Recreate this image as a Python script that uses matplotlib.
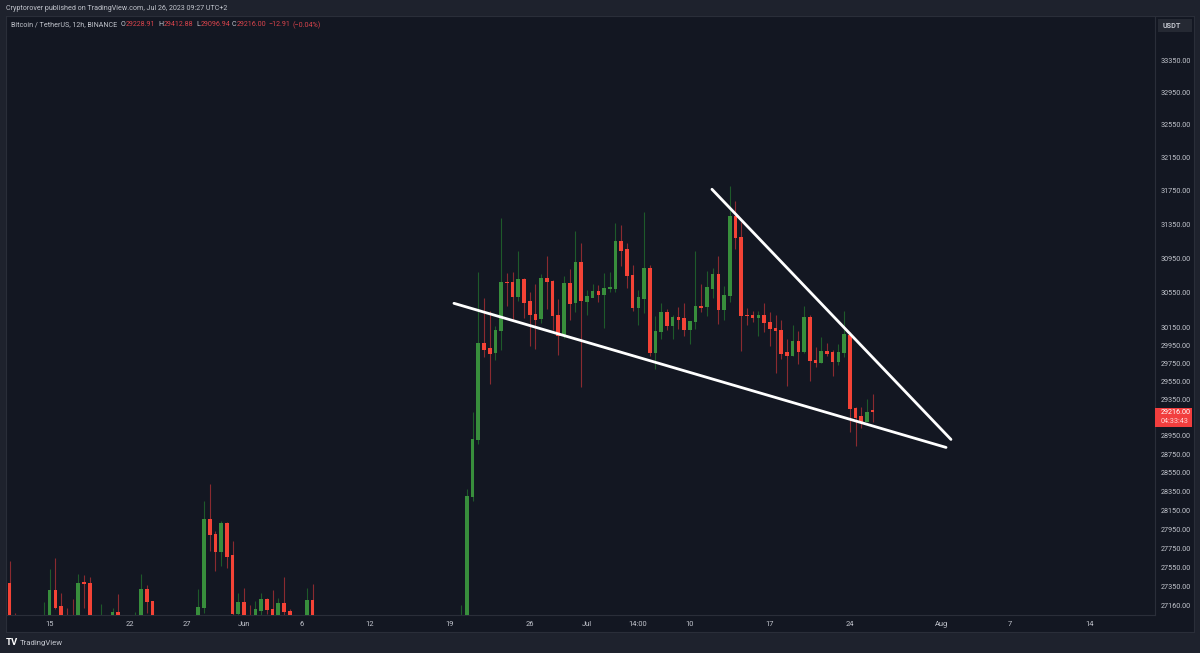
import numpy as np
import matplotlib
matplotlib.use('Agg')
import matplotlib.pyplot as plt
from matplotlib.patches import Rectangle

plt.rcParams['font.family'] = ['Roboto', 'DejaVu Sans']

# 12h candles, index counted from May 15 00:00 (below the visible range values are rough)
candle_idx = [-7, -6, -1, 0, 1, 2, 3, 4, 5, 6, 7, 9, 11, 12, 15, 16, 17, 18,
              26, 27, 28, 29, 30, 31, 32, 33, 34, 35, 36, 37, 38, 39, 40, 41, 42, 45, 46,
              72, 73, 74, 75, 76, 77, 78, 79, 80, 81, 82, 83, 84, 85, 86, 87, 88, 89,
              90, 91, 92, 93, 94, 95, 96, 97, 98, 99, 100, 101, 102, 103, 104, 105, 106, 107, 108, 109,
              110, 111, 112, 113, 114, 115, 116, 117, 118, 119, 120, 121, 122, 123, 124, 125, 126, 127, 128, 129,
              130, 131, 132, 133, 134, 135, 136, 137, 138, 139, 140, 141, 142, 143, 144]
opens = [27391, 26980, 26900, 26950, 27316, 27149, 27000, 27000, 26950, 27396, 27385, 26950, 26950, 27093, 26950, 26950, 27323, 27204,
         26950, 27133, 28051, 27897, 27711, 28010, 27677, 27080, 27194, 27000, 26950, 27110, 27224, 27120, 26950, 27180, 27103, 26950, 27214,
         26950, 26950, 28290, 28911, 29979, 29916, 29866, 30123, 30676, 30673, 30511, 30704, 30450, 30309, 30251, 30719, 30684, 30294,
         30059, 30661, 30434, 30901, 30454, 30499, 30572, 30526, 30595, 30603, 31147, 31056, 30757, 30385, 30485, 30838, 29866, 30104, 30332, 30180,
         30271, 30256, 30134, 30222, 30400, 30389, 30603, 30765, 30362, 30523, 31445, 31201, 30300, 30294, 30271, 30290, 30217, 30149, 30123, 29871,
         29833, 29998, 29886, 30271, 29784, 29758, 29889, 29871, 29773, 29866, 30070, 29247, 29159, 29105, 29228.91]
highs = [27619, 27083, 27197, 27532, 27650, 27282, 27136, 27224, 27488, 27470, 27453, 27173, 27130, 27272, 27090, 27481, 27367, 27204,
         27333, 28244, 28434, 27932, 28034, 28026, 27823, 27282, 27340, 27163, 27204, 27288, 27237, 27323, 27237, 27447, 27120, 27340, 27377,
         27163, 28380, 29209, 30787, 30488, 30344, 30168, 31424, 30784, 30788, 31036, 30727, 30560, 30650, 30773, 30978, 30696, 30485,
         30742, 30831, 31267, 31130, 30588, 30657, 30638, 30780, 30788, 31365, 31346, 31130, 30869, 30580, 31496, 30869, 30286, 30439, 30370, 30297,
         30389, 30434, 30228, 31036, 30650, 30803, 30838, 30974, 30627, 31802, 31622, 31377, 30377, 30343, 30343, 30434, 30328, 30302, 30236, 30020,
         30180, 30115, 30405, 30302, 29931, 30047, 29983, 29897, 29965, 30343, 30104, 29264, 29264, 29358, 29412.88]
lows = [26900, 26900, 26880, 26900, 27123, 26900, 26900, 26900, 26900, 27136, 26900, 26900, 26900, 26900, 26900, 26900, 27080, 26900,
        26900, 27080, 27722, 27512, 27564, 27540, 27062, 27062, 26900, 26900, 26900, 27062, 27072, 26900, 26900, 27062, 26900, 26900, 26900,
        26900, 26900, 28248, 28857, 29822, 29516, 29792, 29897, 30396, 30244, 30454, 30267, 29945, 29916, 30206, 30370, 30131, 29841,
        30040, 30236, 30332, 29486, 30302, 30499, 30442, 30149, 30560, 30560, 30858, 30607, 30343, 30188, 30317, 29833, 29691, 30030, 30126, 30030,
        30142, 30054, 29964, 30134, 30332, 30282, 30496, 30199, 30236, 30446, 31064, 29885, 30188, 30217, 30059, 30104, 29945, 29642, 29795, 29497,
        29833, 29739, 29866, 29550, 29709, 29758, 29830, 29605, 29728, 29822, 28990, 28838, 29039, 29105, 29096.94]
closes = [26950, 26950, 26980, 27316, 27139, 26950, 26950, 26950, 27391, 27383, 26950, 27000, 27093, 26950, 27000, 27323, 27197, 26950,
          27139, 28051, 27894, 27711, 28010, 27667, 27080, 27194, 26950, 26950, 27120, 27224, 27113, 26950, 27180, 27093, 26950, 27214, 26950,
          27000, 28298, 28914, 29979, 29905, 29863, 30126, 30676, 30665, 30511, 30704, 30442, 30302, 30248, 30719, 30676, 30291, 30059,
          30661, 30431, 30901, 30457, 30511, 30572, 30526, 30603, 30615, 31147, 31044, 30750, 30385, 30496, 30834, 29866, 30108, 30332, 30180, 30274,
          30248, 30134, 30228, 30400, 30385, 30612, 30765, 30362, 30526, 31445, 31194, 30285, 30290, 30271, 30290, 30206, 30146, 30120, 29863, 29833,
          29998, 29886, 30271, 29781, 29754, 29889, 29863, 29773, 29871, 30075, 29247, 29148, 29105, 29209, 29216.00]

# two trend lines drawn on the chart (days since May 15, price)
lower_days = [35.37, 78.42]
lower_price = [30431, 28824]
upper_days = [57.94, 78.85]
upper_price = [31766, 28911]

price_ticks = [33350, 32950, 32550, 32150, 31750, 31350, 30950, 30550, 30150, 29950, 29750, 29550, 29350,
               28950, 28750, 28550, 28350, 28150, 27950, 27750, 27550, 27350, 27160]
time_ticks = [0, 7, 12, 17, 22, 28, 35, 42, 47, 51.4, 56, 63, 70, 78, 84, 91]
time_labels = ['15', '22', '27', 'Jun', '6', '12', '19', '26', 'Jul', '14:00', '10', '17', '24', 'Aug', '7', '14']

frame_col = '#1e222d'
chart_col = '#131722'
line_col = '#2a2e39'
text_col = '#c3c6ce'
up_col = '#388e3c'
down_col = '#f44336'
up_wick = '#1e5a2a'
down_wick = '#8a2a30'

W, H = 1200, 653


def box(x0, y0, x1, y1):
    return [x0 / W, 1 - y1 / H, (x1 - x0) / W, (y1 - y0) / H]


def put(x, y, s, **kw):
    kw.setdefault('color', text_col)
    kw.setdefault('fontsize', 5.2)
    kw.setdefault('va', 'center')
    fig.text(x / W, 1 - y / H, s, **kw)


fig = plt.figure(figsize=(12, 6.53), dpi=100, facecolor=frame_col)

# panel behind the chart and both axes
panel = fig.add_axes(box(6, 16, 1194, 632), facecolor=chart_col)
panel.set_xticks([])
panel.set_yticks([])
for s in panel.spines.values():
    s.set_color(line_col)
    s.set_linewidth(0.8)

ax = fig.add_axes(box(6, 16, 1155, 615), facecolor='none')
ax.set_yscale('log')
ax.set_xlim(-3.82, 96.7)
ax.set_ylim(27062, 33907)

days = np.array(candle_idx) / 2
opens = np.array(opens)
closes = np.array(closes)
rising = closes >= opens
colors = np.where(rising, up_col, down_col)
wicks = np.where(rising, up_wick, down_wick)

ax.vlines(days, lows, highs, colors=wicks, linewidth=0.8, zorder=2)
ax.bar(days, np.abs(closes - opens) + 6, bottom=np.minimum(opens, closes) - 3, width=0.32,
       color=colors, linewidth=0, zorder=3)

ax.plot(lower_days, lower_price, color='white', linewidth=2.0, solid_capstyle='round', zorder=4)
ax.plot(upper_days, upper_price, color='white', linewidth=2.0, solid_capstyle='round', zorder=4)

ax.yaxis.tick_right()
ax.set_yticks(price_ticks, [f'{p:.2f}' for p in price_ticks])
ax.minorticks_off()
ax.set_xticks(time_ticks, time_labels)
ax.tick_params(axis='y', length=0, pad=4.3, labelsize=5.2, labelcolor=text_col)
ax.tick_params(axis='x', length=0, pad=4.5, labelsize=5.4, labelcolor=text_col)
for name, s in ax.spines.items():
    s.set_visible(name in ('right', 'bottom'))
    s.set_color(line_col)
    s.set_linewidth(0.8)

# header and OHLC legend
put(6, 8.5, 'Cryptorover published on TradingView.com, Jul 26, 2023 09:27 UTC+2', fontsize=5.1)
put(10.5, 25, 'Bitcoin / TetherUS, 12h, BINANCE', fontsize=5.1)
for x, s, c in [(121, 'O', text_col), (126, '29228.91', '#d9444c'), (158.5, 'H', text_col), (164, '29412.88', '#d9444c'),
                (196, 'L', text_col), (201, '29096.94', '#d9444c'), (232, 'C', text_col), (237, '29216.00', '#d9444c'),
                (268, '\u221212.91', '#d9444c'), (292.5, '(\u22120.04%)', '#d9444c')]:
    put(x, 25, s, color=c, fontsize=5.1)

# currency box and last price tag
fig.add_artist(Rectangle((1158 / W, 1 - 32 / H), 34 / W, 13 / H, transform=fig.transFigure, facecolor='#252933', edgecolor='none'))
put(1163, 25.5, 'USDT', fontweight='bold', fontsize=5.2)
fig.add_artist(Rectangle((1155 / W, 1 - 427 / H), 37 / W, 19 / H, transform=fig.transFigure, facecolor='#f23e3e', edgecolor='none'))
put(1161, 413, '29216.00', color='white')
put(1161, 421.5, '04:33:43', color='#ffd5d5')

# footer
put(6, 642.5, 'TV', color='white', fontweight='bold', fontsize=6.8)
put(19.5, 643, 'TradingView', fontsize=5.6)

fig.savefig('out.png', dpi=100, facecolor=frame_col)
